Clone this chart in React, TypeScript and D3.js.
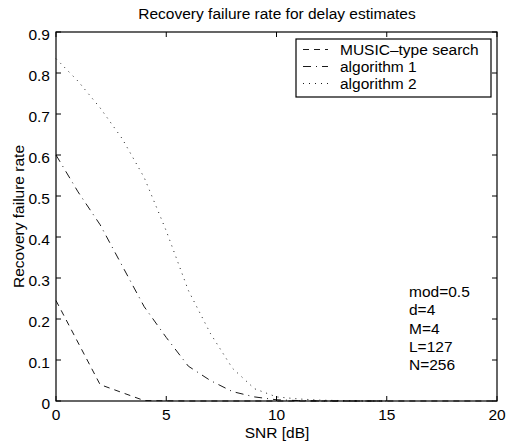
import React, { useEffect, useRef } from 'react'
import * as d3 from 'd3'

// values
const snrMusic = [0, 2, 4, 6, 8, 10, 12, 14, 16, 18, 20]
const rateMusic = [0.245, 0.04, 0.001, 0, 0, 0, 0, 0, 0, 0, 0]

const snrAlg = [0, 1, 2, 3, 4, 5, 6, 7, 8, 9, 10, 11, 12, 13, 14, 15]
const rateAlg1 = [0.6, 0.51, 0.43, 0.33, 0.23, 0.155, 0.085, 0.05, 0.023, 0.01, 0.003, 0.001, 0, 0, 0, 0]
const rateAlg2 = [0.835, 0.78, 0.715, 0.64, 0.545, 0.415, 0.27, 0.165, 0.08, 0.03, 0.01, 0.005, 0.002, 0.001, 0, 0]

const xTicks = [0, 5, 10, 15, 20]
const yTicks = [0, 0.1, 0.2, 0.3, 0.4, 0.5, 0.6, 0.7, 0.8, 0.9]

const seriesNames = ['MUSIC\u2013type search', 'algorithm 1', 'algorithm 2']
const notes = ['mod=0.5', 'd=4', 'M=4', 'L=127', 'N=256']

export default function App() {
  const ref = useRef<SVGSVGElement>(null)

  useEffect(() => {
    const svg = d3.select(ref.current)
    svg.selectAll('*').remove()

    // plot box
    var left = 56, right = 497, top = 32, bottom = 401
    var x = d3.scaleLinear().domain([0, 20]).range([left, right])
    var y = d3.scaleLinear().domain([0, 0.9]).range([bottom, top])
    var font = "'Liberation Sans', Arial, Helvetica, sans-serif"
    var fs = '15.5px'

    svg.append('rect')
      .attr('width', 506).attr('height', 441).attr('fill', 'white')

    var dashes = ['6,5', '8,5,1,5', '1,5']
    var series = [
      snrMusic.map((s, i) => [s, rateMusic[i]]),
      snrAlg.map((s, i) => [s, rateAlg1[i]]),
      snrAlg.map((s, i) => [s, rateAlg2[i]]),
    ]
    var line = d3.line<number[]>().x(d => x(d[0])).y(d => y(d[1]))

    series.forEach((pts, i) => {
      svg.append('path')
        .attr('d', line(pts))
        .attr('fill', 'none')
        .attr('stroke', 'black')
        .attr('stroke-width', 0.9)
        .attr('stroke-dasharray', dashes[i])
    })

    // box
    svg.append('rect')
      .attr('x', left).attr('y', top)
      .attr('width', right - left).attr('height', bottom - top)
      .attr('fill', 'none').attr('stroke', 'black').attr('stroke-width', 1.2)

    // ticks, inward on all four sides
    var tl = 5
    xTicks.forEach(t => {
      svg.append('line').attr('x1', x(t)).attr('x2', x(t)).attr('y1', bottom).attr('y2', bottom - tl).attr('stroke', 'black')
      svg.append('line').attr('x1', x(t)).attr('x2', x(t)).attr('y1', top).attr('y2', top + tl).attr('stroke', 'black')
      svg.append('text')
        .attr('x', x(t)).attr('y', bottom + 18.5)
        .attr('text-anchor', 'middle')
        .style('font-family', font).style('font-size', fs)
        .text(t)
    })
    yTicks.forEach(t => {
      svg.append('line').attr('x1', left).attr('x2', left + tl).attr('y1', y(t)).attr('y2', y(t)).attr('stroke', 'black')
      svg.append('line').attr('x1', right).attr('x2', right - tl).attr('y1', y(t)).attr('y2', y(t)).attr('stroke', 'black')
      svg.append('text')
        .attr('x', left - 6).attr('y', y(t) + 7.5)
        .attr('text-anchor', 'end')
        .style('font-family', font).style('font-size', fs)
        .text(t === 0 ? '0' : t.toFixed(1))
    })

    // titles
    svg.append('text')
      .attr('x', (left + right) / 2 + 0.5).attr('y', 19)
      .attr('text-anchor', 'middle')
      .style('font-family', font).style('font-size', fs)
      .text('Recovery failure rate for delay estimates')
    svg.append('text')
      .attr('x', (left + right) / 2 + 0.5).attr('y', 437.5)
      .attr('text-anchor', 'middle')
      .style('font-family', font).style('font-size', fs)
      .text('SNR [dB]')
    svg.append('text')
      .attr('transform', 'translate(23.5,' + (top + bottom) / 2 + ') rotate(-90)')
      .attr('text-anchor', 'middle')
      .style('font-family', font).style('font-size', fs)
      .text('Recovery failure rate')

    // legend
    var lg = svg.append('g')
    lg.append('rect')
      .attr('x', 296).attr('y', 39).attr('width', 195).attr('height', 58)
      .attr('fill', 'white').attr('stroke', 'black').attr('stroke-width', 1.2)
    seriesNames.forEach((name, i) => {
      var base = 55 + i * 17
      lg.append('line')
        .attr('x1', 303).attr('x2', 328).attr('y1', base - 5.5).attr('y2', base - 5.5)
        .attr('stroke', 'black').attr('stroke-width', 0.9)
        .attr('stroke-dasharray', dashes[i])
      lg.append('text')
        .attr('x', 340).attr('y', base)
        .style('font-family', font).style('font-size', fs)
        .text(name)
    })

    // parameter notes
    notes.forEach((n, i) => {
      svg.append('text')
        .attr('x', 409).attr('y', 297 + i * 18.3)
        .style('font-family', font).style('font-size', fs)
        .text(n)
    })
  }, [])

  return (
    <div>
      <svg ref={ref} width={506} height={441} style={{ display: 'block', position: 'absolute', left: 0, top: 0 }} />
    </div>
  )
}
